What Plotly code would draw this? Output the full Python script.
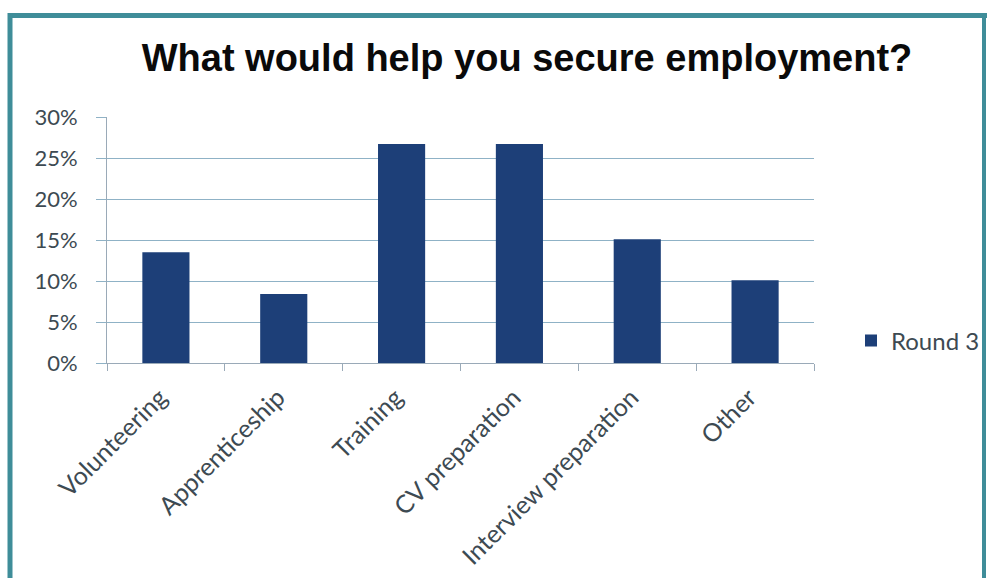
import plotly.graph_objects as go

categories = ["Volunteering", "Apprenticeship", "Training", "CV preparation",
              "Interview preparation", "Other"]
round3 = [0.135, 0.084, 0.267, 0.267, 0.151, 0.101]
series_name = "Round 3"
title_text = "What would help you secure employment?"
y_ticks = [0, 0.05, 0.10, 0.15, 0.20, 0.25, 0.30]
y_ticklabels = ["0%", "5%", "10%", "15%", "20%", "25%", "30%"]

W, H = 987, 578
L, R, T, B = 107, 173, 117, 215
pw, ph = W - L - R, H - T - B

def px(x):
    return (x - L) / pw

def py(y):
    return (H - B - y) / ph

fig = go.Figure()
fig.add_trace(go.Bar(x=categories, y=round3, name=series_name,
                     marker=dict(color="#1d3f78", line=dict(width=0)),
                     showlegend=True))

font_family = "Lato, 'Open Sans', sans-serif"
text_color = "#3d4a52"

fig.update_layout(
    width=W, height=H,
    margin=dict(l=L, r=R, t=T, b=B, autoexpand=False),
    paper_bgcolor="white", plot_bgcolor="white",
    bargap=0.6,
    title=dict(text=title_text, x=527 / W, xanchor="center",
               y=1 - 58 / H, yanchor="middle",
               font=dict(family="Liberation Sans, Arial, sans-serif", size=38,
                         color="#0a0a0a", weight="bold")),
    xaxis=dict(tickangle=-45,
               tickfont=dict(family=font_family, size=25, color=text_color),
               showline=True, linecolor="#9aaab8", linewidth=1,
               ticks="outside", tickson="boundaries", ticklen=7,
               tickcolor="#9aaab8", showgrid=False, fixedrange=True,
               ticklabelstandoff=9, ticklabelshift=-6),
    yaxis=dict(range=[0, 0.30], tickvals=y_ticks, ticktext=y_ticklabels,
               tickfont=dict(family=font_family, size=22, color=text_color),
               showline=True, linecolor="#9aaab8", linewidth=1,
               ticks="outside", ticklen=10, tickcolor="#8fb2c6",
               showgrid=True, gridcolor="#8fb2c6", gridwidth=1.3,
               zeroline=False, ticklabelstandoff=14),
    legend=dict(xref="container", yref="container", x=851 / W, y=(H - 341) / H,
                xanchor="left", yanchor="middle",
                font=dict(family=font_family, size=24, color=text_color),
                bgcolor="rgba(0,0,0,0)", itemwidth=30),
    shapes=[
        dict(type="line", xref="paper", yref="paper", x0=px(10), x1=px(990),
             y0=py(15.5), y1=py(15.5), line=dict(color="#3f8d99", width=5)),
        dict(type="line", xref="paper", yref="paper", x0=px(10), x1=px(10),
             y0=py(13), y1=py(590), line=dict(color="#3f8d99", width=5)),
        dict(type="line", xref="paper", yref="paper", x0=px(984), x1=px(984),
             y0=py(13), y1=py(590), line=dict(color="#3f8d99", width=4)),
    ],
)

fig.write_html("out.html")
